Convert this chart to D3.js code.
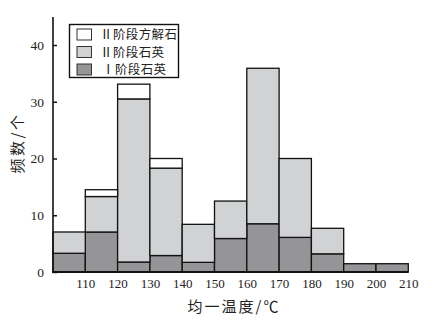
<!DOCTYPE html>
<html><head><meta charset="utf-8">
<script src="https://cdn.jsdelivr.net/npm/d3@7"></script>
<style>body{margin:0;background:#fff}svg{display:block}</style>
</head><body>
<svg id="c" width="442" height="321"></svg>
<script>
const binStarts = [100,110,120,130,140,150,160,170,180,190,200];
const binWidth = 10;
const quartzI   = [3.3, 7.05, 1.76, 2.9, 1.7, 5.9, 8.5, 6.1, 3.2, 1.46, 1.46];
const quartzII  = [3.75, 6.25, 28.74, 15.4, 6.7, 6.6, 27.4, 13.9, 4.5, 0, 0];
const calciteII = [0, 1.2, 2.6, 1.7, 0, 0, 0, 0, 0, 0, 0];
const xTicks = [110,120,130,140,150,160,170,180,190,200,210];
const yTicks = [0,10,20,30,40];
const seriesNames = ["Ⅱ阶段方解石","Ⅱ阶段石英","Ⅰ阶段石英"];
const keys = ["quartzI","quartzII","calciteII"];

const colors = {quartzI:"#959597", quartzII:"#d1d2d4", calciteII:"#ffffff"};
const serif = "'Liberation Serif','DejaVu Serif',serif";
const cjk = "'Noto Sans CJK SC','Noto Sans CJK JP',sans-serif";

const svg = d3.select("#c");
const x = d3.scaleLinear().domain([100,210]).range([53,408.3]);
const y = d3.scaleLinear().domain([0,40]).range([272,45]);

const table = binStarts.map((b,i)=>({bin:b, quartzI:quartzI[i], quartzII:quartzII[i], calciteII:calciteII[i]}));
const stacked = d3.stack().keys(keys)(table);

const g = svg.append("g");
stacked.forEach(layer=>{
  g.selectAll(null).data(layer.filter(d=>d[1]-d[0]>0)).enter().append("rect")
    .attr("x", d=>x(d.data.bin))
    .attr("width", d=>x(d.data.bin+binWidth)-x(d.data.bin))
    .attr("y", d=>y(d[1]))
    .attr("height", d=>y(d[0])-y(d[1]))
    .attr("fill", colors[layer.key])
    .attr("stroke","#111").attr("stroke-width",1.3);
});

// y axis
const yAxis = d3.axisRight(y).tickValues(yTicks).tickSize(4).tickFormat(d3.format("d"));
const ya = svg.append("g").attr("transform","translate(53,0)").call(yAxis);
ya.select(".domain").remove();
ya.selectAll(".tick line").attr("stroke","#111").attr("stroke-width",1.5);
ya.selectAll(".tick text").attr("x",-9).attr("text-anchor","end")
  .style("font-family",serif).style("font-size","13.5px").attr("fill","#222");
svg.append("line").attr("x1",53).attr("x2",53).attr("y1",17).attr("y2",273)
  .attr("stroke","#111").attr("stroke-width",1.6);

// x axis
const xAxis = d3.axisBottom(x).tickValues(xTicks).tickSize(0).tickFormat(d3.format("d"));
const xa = svg.append("g").attr("transform","translate(0,272)").call(xAxis);
xa.select(".domain").remove();
xa.selectAll(".tick text").attr("y",7).attr("dy","0.71em")
  .style("font-family",serif).style("font-size","13px").attr("fill","#222");
svg.append("line").attr("x1",52).attr("x2",x(210)).attr("y1",272).attr("y2",272)
  .attr("stroke","#111").attr("stroke-width",2);

// axis titles
svg.append("text").attr("x",234).attr("y",312).attr("text-anchor","middle")
  .style("font-family",cjk).style("font-size","15px").style("letter-spacing","2px")
  .attr("fill","#222").text("均一温度/℃");
svg.append("text").attr("transform","translate(23,143) rotate(-90)").attr("text-anchor","middle")
  .style("font-family",cjk).style("font-size","15px").style("letter-spacing","2.5px")
  .attr("fill","#222").text("频数/个");

// legend
const lg = svg.append("g");
lg.append("rect").attr("x",69.5).attr("y",24.5).attr("width",109).attr("height",53)
  .attr("fill","#fff").attr("stroke","#111").attr("stroke-width",1.4);
const legendKeys = ["calciteII","quartzII","quartzI"];
legendKeys.forEach((k,i)=>{
  const cy = 34.5 + i*17.5;
  lg.append("rect").attr("x",77).attr("y",cy-5.5).attr("width",14.5).attr("height",11)
    .attr("fill",colors[k]).attr("stroke","#333").attr("stroke-width",1);
  lg.append("text").attr("x", i===2?102:100).attr("y",cy).attr("dy","0.36em")
    .style("font-family",cjk).style("font-size","12.5px").style("letter-spacing","0.4px")
    .attr("fill","#222").text(seriesNames[i]);
});
</script>
</body></html>
